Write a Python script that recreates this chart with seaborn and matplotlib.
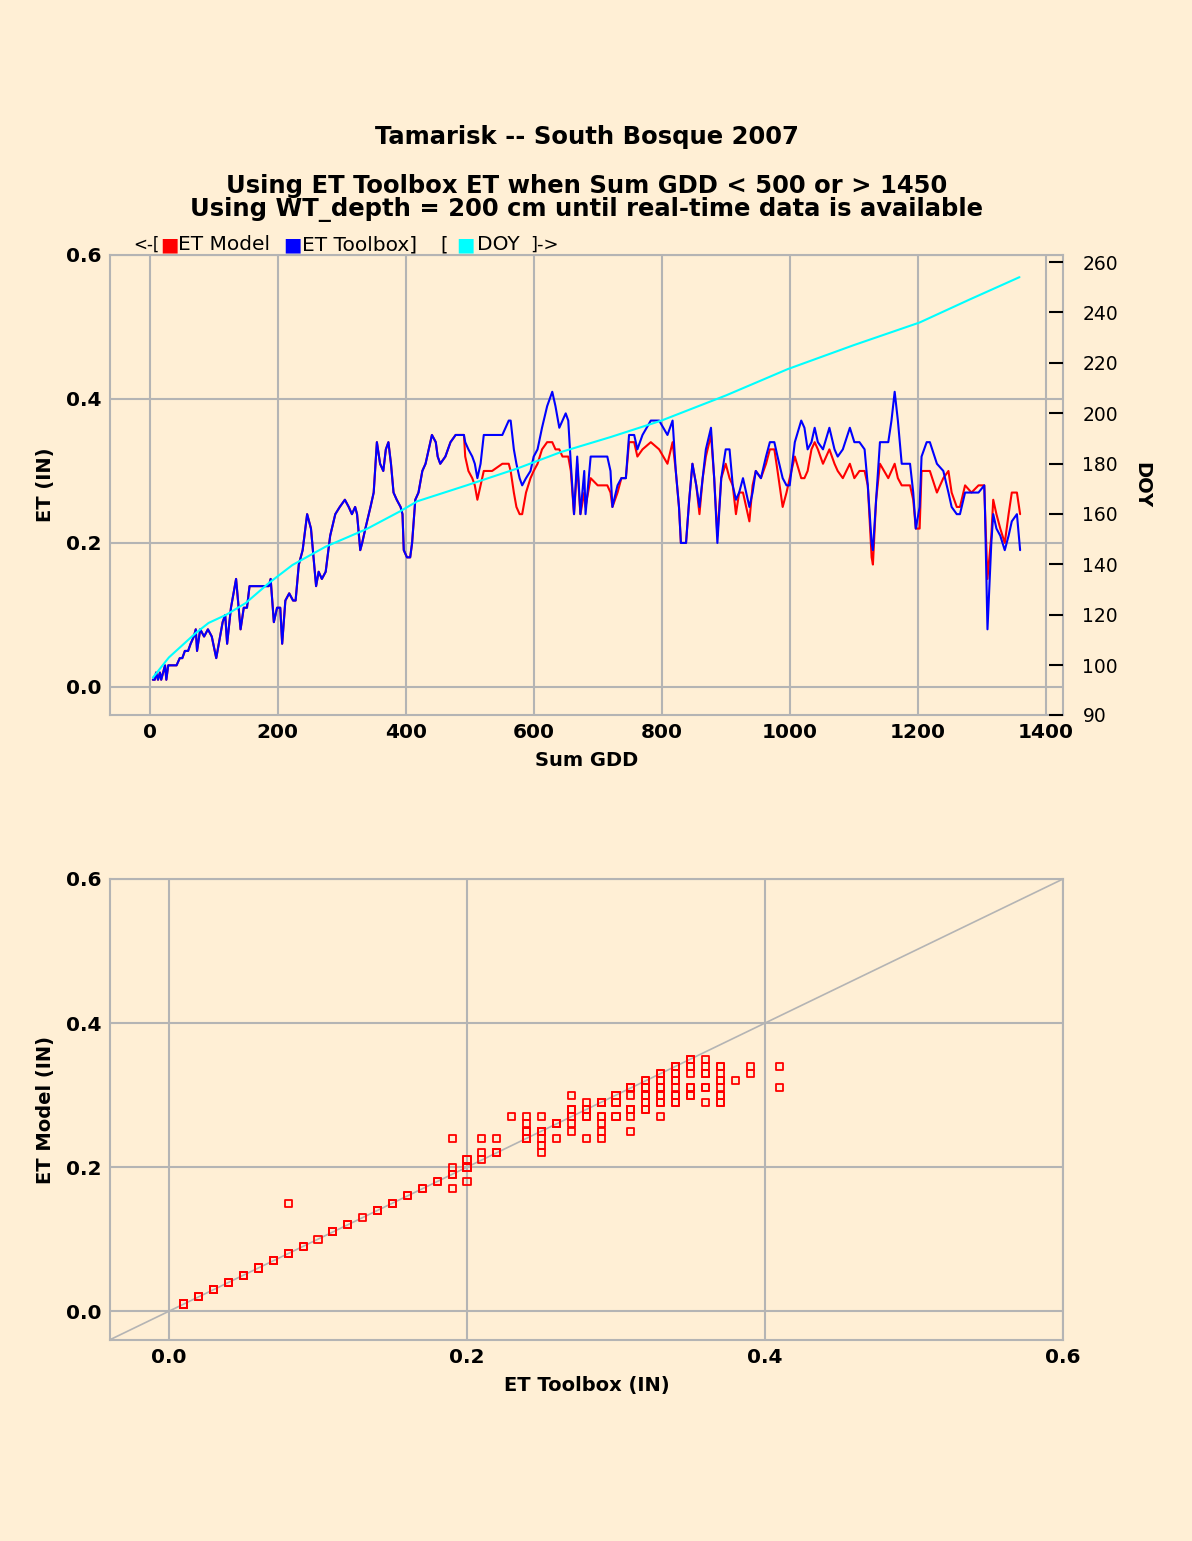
import matplotlib.pyplot as plt
import seaborn as sns

# values
sum_gdd = [
    5, 8, 10, 13, 16, 18, 21, 24, 26, 29,
    33, 38, 42, 47, 51, 55, 60, 64, 69, 72,
    74, 79, 85, 91, 97, 104, 110, 114, 118, 121,
    127, 135, 142, 147, 152, 156, 165, 175, 186, 189,
    194, 199, 204, 207, 212, 218, 224, 228, 233, 239,
    246, 252, 257, 260, 264, 269, 275, 282, 290, 297,
    305, 311, 316, 321, 324, 329, 332, 337, 345, 350,
    355, 360, 365, 369, 373, 377, 381, 386, 392, 395,
    397, 402, 407, 410, 415, 420, 426, 431, 436, 441,
    447, 450, 454, 462, 470, 478, 491, 493, 498, 504,
    508, 512, 517, 522, 535, 551, 556, 561, 564, 569,
    573, 578, 582, 588, 595, 600, 606, 613, 621, 629,
    634, 640, 645, 650, 654, 658, 663, 668, 673, 679,
    681, 689, 700, 715, 720, 723, 731, 737, 744, 749,
    757, 762, 770, 783, 796, 809, 817, 822, 827, 830,
    838, 843, 848, 854, 859, 864, 869, 877, 882, 887,
    893, 900, 906, 911, 916, 921, 927, 932, 937, 942,
    947, 955, 963, 969, 976, 981, 989, 995, 1000, 1008,
    1018, 1023, 1028, 1034, 1039, 1044, 1052, 1062, 1070, 1075,
    1083, 1094, 1101, 1109, 1117, 1122, 1128, 1130, 1135, 1141,
    1154, 1159, 1164, 1169, 1175, 1188, 1193, 1197, 1203, 1206,
    1214, 1219, 1230, 1240, 1248, 1253, 1261, 1266, 1274, 1284,
    1295, 1304, 1305, 1309, 1315, 1318, 1323, 1329, 1336, 1342,
    1347, 1355, 1360,
]
et_toolbox = [
    0.01, 0.01, 0.02, 0.01, 0.02, 0.01, 0.02, 0.03, 0.01, 0.03,
    0.03, 0.03, 0.03, 0.04, 0.04, 0.05, 0.05, 0.06, 0.07, 0.08,
    0.05, 0.08, 0.07, 0.08, 0.07, 0.04, 0.07, 0.09, 0.10, 0.06,
    0.11, 0.15, 0.08, 0.11, 0.11, 0.14, 0.14, 0.14, 0.14, 0.15,
    0.09, 0.11, 0.11, 0.06, 0.12, 0.13, 0.12, 0.12, 0.17, 0.19,
    0.24, 0.22, 0.17, 0.14, 0.16, 0.15, 0.16, 0.21, 0.24, 0.25,
    0.26, 0.25, 0.24, 0.25, 0.24, 0.19, 0.20, 0.22, 0.25, 0.27,
    0.34, 0.31, 0.30, 0.33, 0.34, 0.31, 0.27, 0.26, 0.25, 0.24,
    0.19, 0.18, 0.18, 0.20, 0.26, 0.27, 0.30, 0.31, 0.33, 0.35,
    0.34, 0.32, 0.31, 0.32, 0.34, 0.35, 0.35, 0.34, 0.33, 0.32,
    0.31, 0.29, 0.31, 0.35, 0.35, 0.35, 0.36, 0.37, 0.37, 0.33,
    0.31, 0.29, 0.28, 0.29, 0.30, 0.32, 0.33, 0.36, 0.39, 0.41,
    0.39, 0.36, 0.37, 0.38, 0.37, 0.31, 0.24, 0.32, 0.24, 0.30,
    0.24, 0.32, 0.32, 0.32, 0.30, 0.25, 0.28, 0.29, 0.29, 0.35,
    0.35, 0.33, 0.35, 0.37, 0.37, 0.35, 0.37, 0.30, 0.25, 0.20,
    0.20, 0.26, 0.31, 0.28, 0.25, 0.29, 0.33, 0.36, 0.29, 0.20,
    0.29, 0.33, 0.33, 0.28, 0.26, 0.27, 0.29, 0.27, 0.25, 0.27,
    0.30, 0.29, 0.32, 0.34, 0.34, 0.32, 0.29, 0.28, 0.28, 0.34,
    0.37, 0.36, 0.33, 0.34, 0.36, 0.34, 0.33, 0.36, 0.33, 0.32,
    0.33, 0.36, 0.34, 0.34, 0.33, 0.28, 0.20, 0.19, 0.26, 0.34,
    0.34, 0.37, 0.41, 0.37, 0.31, 0.31, 0.27, 0.22, 0.25, 0.32,
    0.34, 0.34, 0.31, 0.30, 0.27, 0.25, 0.24, 0.24, 0.27, 0.27,
    0.27, 0.28, 0.25, 0.08, 0.20, 0.24, 0.22, 0.21, 0.19, 0.21,
    0.23, 0.24, 0.19,
]
et_model = [
    0.01, 0.01, 0.02, 0.01, 0.02, 0.01, 0.02, 0.03, 0.01, 0.03,
    0.03, 0.03, 0.03, 0.04, 0.04, 0.05, 0.05, 0.06, 0.07, 0.08,
    0.05, 0.08, 0.07, 0.08, 0.07, 0.04, 0.07, 0.09, 0.10, 0.06,
    0.11, 0.15, 0.08, 0.11, 0.11, 0.14, 0.14, 0.14, 0.14, 0.15,
    0.09, 0.11, 0.11, 0.06, 0.12, 0.13, 0.12, 0.12, 0.17, 0.19,
    0.24, 0.22, 0.17, 0.14, 0.16, 0.15, 0.16, 0.21, 0.24, 0.25,
    0.26, 0.25, 0.24, 0.25, 0.24, 0.19, 0.20, 0.22, 0.25, 0.27,
    0.34, 0.31, 0.30, 0.33, 0.34, 0.31, 0.27, 0.26, 0.25, 0.24,
    0.19, 0.18, 0.18, 0.20, 0.26, 0.27, 0.30, 0.31, 0.33, 0.35,
    0.34, 0.32, 0.31, 0.32, 0.34, 0.35, 0.35, 0.32, 0.30, 0.29,
    0.28, 0.26, 0.28, 0.30, 0.30, 0.31, 0.31, 0.31, 0.30, 0.27,
    0.25, 0.24, 0.24, 0.27, 0.29, 0.30, 0.31, 0.33, 0.34, 0.34,
    0.33, 0.33, 0.32, 0.32, 0.32, 0.30, 0.24, 0.31, 0.24, 0.27,
    0.25, 0.29, 0.28, 0.28, 0.27, 0.25, 0.27, 0.29, 0.29, 0.34,
    0.34, 0.32, 0.33, 0.34, 0.33, 0.31, 0.34, 0.30, 0.25, 0.20,
    0.20, 0.26, 0.31, 0.28, 0.24, 0.29, 0.32, 0.35, 0.29, 0.21,
    0.29, 0.31, 0.29, 0.28, 0.24, 0.27, 0.27, 0.25, 0.23, 0.28,
    0.30, 0.29, 0.31, 0.33, 0.33, 0.30, 0.25, 0.27, 0.29, 0.32,
    0.29, 0.29, 0.30, 0.33, 0.34, 0.33, 0.31, 0.33, 0.31, 0.30,
    0.29, 0.31, 0.29, 0.30, 0.30, 0.28, 0.18, 0.17, 0.26, 0.31,
    0.29, 0.30, 0.31, 0.29, 0.28, 0.28, 0.26, 0.22, 0.22, 0.30,
    0.30, 0.30, 0.27, 0.29, 0.30, 0.27, 0.25, 0.25, 0.28, 0.27,
    0.28, 0.28, 0.25, 0.15, 0.21, 0.26, 0.24, 0.22, 0.20, 0.24,
    0.27, 0.27, 0.24,
]
doy_gdd = [5, 30, 72, 92, 120, 150, 186, 223, 275, 339, 391, 418,
           496, 574, 643, 720, 799, 900, 997, 1100, 1203, 1280, 1359]
doy = [95, 103, 112.7, 116.7, 120, 124.6, 132.5, 139.7, 147, 154, 161, 165,
       171.4, 178, 184.6, 190.5, 197, 207, 217.5, 227, 236, 245, 254]

gdd_ticks = [0, 200, 400, 600, 800, 1000, 1200, 1400]
et_ticks = [0.0, 0.2, 0.4, 0.6]
doy_ticks = [80.15, 100, 120, 140, 160, 180, 200, 220, 240, 260]
doy_tick_labels = ["90", "100", "120", "140", "160", "180", "200", "220", "240", "260"]

BG = "#ffefd5"
GRID = "#b4b4b4"
W, H = 1192, 1541

sns.set_theme(style="whitegrid")
plt.rcParams["font.family"] = ["DejaVu Sans"]
plt.rcParams.update({
    "axes.facecolor": BG,
    "figure.facecolor": BG,
    "grid.color": GRID,
    "grid.linewidth": 1.5,
    "axes.edgecolor": GRID,
    "axes.linewidth": 1.5,
    "text.color": "black",
    "axes.labelcolor": "black",
    "xtick.color": "black",
    "ytick.color": "black",
})


def box(left, top, right, bottom):
    return [left / W, 1 - bottom / H, (right - left) / W, (bottom - top) / H]


def px(x, y):
    return x / W, 1 - y / H


fig = plt.figure(figsize=(W / 100, H / 100), dpi=100)

# ---- top: ET vs Sum GDD, with DOY on the right ----
ax = fig.add_axes(box(110, 255, 1063, 715))
sns.lineplot(x=sum_gdd, y=et_model, color="red", linewidth=1.5,
             sort=False, estimator=None, ax=ax)
sns.lineplot(x=sum_gdd, y=et_toolbox, color="blue", linewidth=1.5,
             sort=False, estimator=None, ax=ax)
ax.set_xlim(-62, 1427)
ax.set_ylim(-0.039, 0.6)
ax.set_xticks(gdd_ticks)
ax.set_yticks(et_ticks)
ax.set_yticklabels([f"{t:.1f}" for t in et_ticks])
ax.tick_params(length=0, labelsize=14.5, pad=6)
for lab in ax.get_xticklabels() + ax.get_yticklabels():
    lab.set_fontweight("bold")
ax.set_xlabel("Sum GDD", fontsize=14, fontweight="bold", labelpad=6)
ax.set_ylabel("ET (IN)", fontsize=14, fontweight="bold", labelpad=8)

ax2 = ax.twinx()
sns.lineplot(x=doy_gdd, y=doy, color="cyan", linewidth=1.5,
             sort=False, estimator=None, ax=ax2)
ax2.set_ylim(80.15, 262.8)
ax2.set_yticks(doy_ticks)
ax2.set_yticklabels(doy_tick_labels)
ax2.grid(False)
ax2.tick_params(axis="y", direction="in", length=10, width=1.5, color="black",
                labelsize=13.5, pad=14)
ax2.set_ylabel("DOY", fontsize=14, fontweight="bold", rotation=-90, labelpad=24)
for s in ax2.spines.values():
    s.set_visible(False)

# titles
fig.text(*px(587, 137), "Tamarisk -- South Bosque 2007", ha="center", va="center",
         fontsize=17.5, fontweight="bold")
fig.text(*px(587, 186), "Using ET Toolbox ET when Sum GDD < 500 or > 1450",
         ha="center", va="center", fontsize=17.5, fontweight="bold")
fig.text(*px(587, 210), "Using WT_depth = 200 cm until real-time data is available",
         ha="center", va="center", fontsize=17.5, fontweight="bold")

# legend strip above the top axes
leg_y = 245
fig.text(*px(133, leg_y), "<-[", va="center", fontsize=12)
fig.text(*px(160, leg_y), "\u25a0", va="center", fontsize=14, color="red")
fig.text(*px(178, leg_y), "ET Model", va="center", fontsize=14.5)
fig.text(*px(283, leg_y), "\u25a0", va="center", fontsize=14, color="blue")
fig.text(*px(302, leg_y), "ET Toolbox]", va="center", fontsize=14.5)
fig.text(*px(440, leg_y), "[", va="center", fontsize=14)
fig.text(*px(456, leg_y), "\u25a0", va="center", fontsize=14, color="cyan")
fig.text(*px(477, leg_y), "DOY", va="center", fontsize=14.5)
fig.text(*px(530, leg_y), "]->", va="center", fontsize=13)

# ---- bottom: ET Model vs ET Toolbox ----
bx = fig.add_axes(box(110, 879, 1063, 1340))
bx.axline((0, 0), slope=1, color=GRID, linewidth=1.2, zorder=1)
sns.scatterplot(x=et_toolbox, y=et_model, marker="s", s=26,
                facecolor="none", edgecolor="red", linewidth=1.3, ax=bx, zorder=3)
bx.set_xlim(-0.0396, 0.6)
bx.set_ylim(-0.04, 0.6)
bx.set_xticks(et_ticks)
bx.set_yticks(et_ticks)
bx.set_xticklabels([f"{t:.1f}" for t in et_ticks])
bx.set_yticklabels([f"{t:.1f}" for t in et_ticks])
bx.tick_params(length=0, labelsize=14.5, pad=6)
for lab in bx.get_xticklabels() + bx.get_yticklabels():
    lab.set_fontweight("bold")
bx.set_xlabel("ET Toolbox (IN)", fontsize=14, fontweight="bold", labelpad=6)
bx.set_ylabel("ET Model (IN)", fontsize=14, fontweight="bold", labelpad=8)

fig.savefig("out.png", dpi=100, facecolor=BG)
